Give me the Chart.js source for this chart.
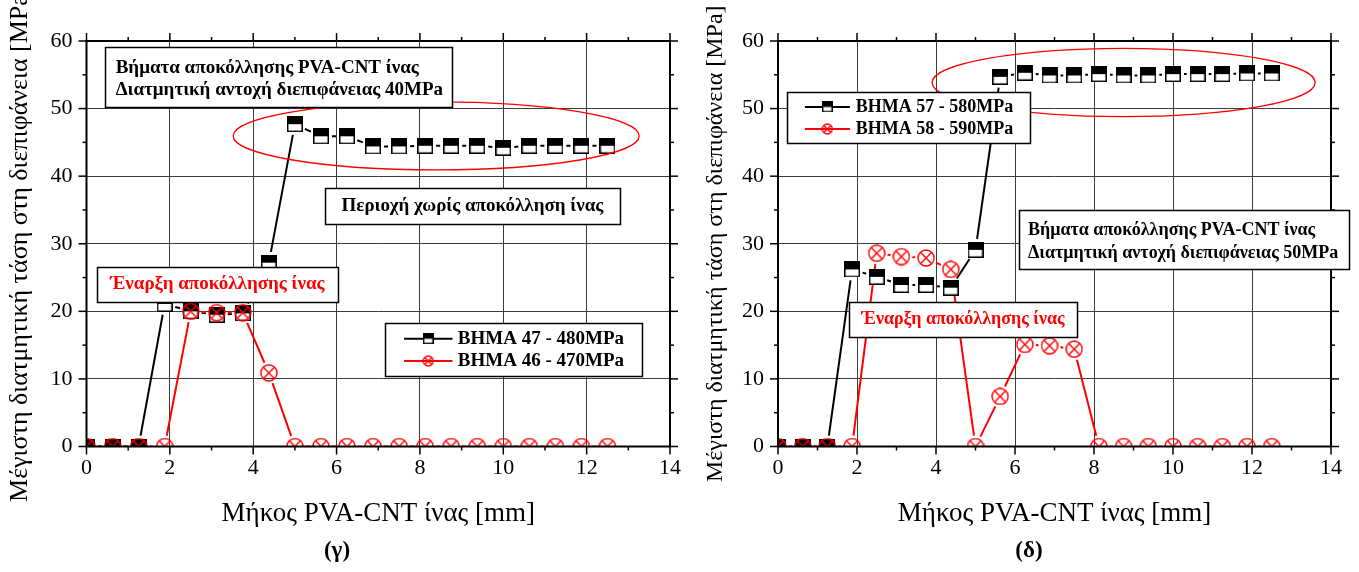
<!DOCTYPE html>
<html lang="el">
<head>
    <meta charset="UTF-8" />
    <title>Μέγιστη διατμητική τάση στη διεπιφάνεια</title>
    <script src="https://cdn.jsdelivr.net/npm/chart.js"></script>
    <style>
        body { margin: 0; background: #fff; }
        #wrap { position: relative; width: 1359px; height: 572px; }
        #boxG { position: absolute; left: 0; top: 0; width: 690px; height: 572px; }
        #boxD { position: absolute; left: 690px; top: 0; width: 669px; height: 572px; }
    </style>
</head>
<body>
    <div id="wrap">
        <div id="boxG"><canvas id="chartG"></canvas></div>
        <div id="boxD"><canvas id="chartD"></canvas></div>
    </div>

    <script>
        // fibre length positions [mm]
        const positions = [0, 0.625, 1.25, 1.875, 2.5, 3.125, 3.75, 4.375, 5, 5.625, 6.25,
                           6.875, 7.5, 8.125, 8.75, 9.375, 10, 10.625, 11.25, 11.875, 12.5];

        // (γ) interface shear strength 40MPa
        const step47 = [0, 0, 0, 21.1, 20.0, 19.5, 19.7, 27.2, 47.7, 45.9, 45.9,
                        44.4, 44.4, 44.5, 44.5, 44.5, 44.2, 44.5, 44.5, 44.5, 44.5];
        const step46 = [0, 0, 0, 0, 20.0, 19.8, 19.8, 10.9, 0, 0, 0,
                        0, 0, 0, 0, 0, 0, 0, 0, 0, 0];

        // (δ) interface shear strength 50MPa
        const step57 = [0, 0, 0, 26.2, 25.1, 23.9, 23.9, 23.5, 29.1, 54.7, 55.3,
                        54.9, 54.9, 55.1, 54.9, 54.9, 55.1, 55.1, 55.1, 55.2, 55.2];
        const step58 = [0, 0, 0, 0, 28.6, 28.1, 27.9, 26.2, 0, 7.4, 15.1,
                        14.9, 14.4, 0, 0, 0, 0, 0, 0, 0, 0];

        const xTicks = [0, 2, 4, 6, 8, 10, 12, 14];
        const yTicks = [0, 10, 20, 30, 40, 50, 60];

        const SERIF = '"Liberation Serif", "Times New Roman", serif';
        const GAP = 11; // Origin style gap between line and symbol

        function squareMarker(s) {
            const c = document.createElement('canvas');
            c.width = s; c.height = s;
            const g = c.getContext('2d');
            g.fillStyle = '#fff'; g.fillRect(0, 0, s, s);
            g.fillStyle = '#000'; g.fillRect(0, 0, s, s / 2);
            g.strokeStyle = '#000'; g.lineWidth = 1.5;
            g.strokeRect(0.75, 0.75, s - 1.5, s - 1.5);
            return c;
        }

        function crossCircle(s) {
            const c = document.createElement('canvas');
            c.width = s; c.height = s;
            const g = c.getContext('2d');
            const m = s / 2, r = s / 2 - 1, d = r * Math.SQRT1_2;
            g.strokeStyle = '#f00'; g.lineWidth = 1.4;
            g.beginPath(); g.arc(m, m, r, 0, 2 * Math.PI); g.stroke();
            g.beginPath();
            g.moveTo(m - d, m - d); g.lineTo(m + d, m + d);
            g.moveTo(m + d, m - d); g.lineTo(m - d, m + d);
            g.stroke();
            return c;
        }

        const sqBig = squareMarker(16), sqSmall = squareMarker(11);
        const ciBig = crossCircle(18), ciSmall = crossCircle(12);

        const toPoints = arr => positions.map((x, i) => ({ x: x, y: arr[i] }));

        // lines drawn with gaps at the symbols, like the original plot
        const gapLines = {
            id: 'gapLines',
            beforeDatasetsDraw(chart) {
                const { ctx, chartArea: a } = chart;
                ctx.save();
                ctx.beginPath();
                ctx.rect(a.left, a.top, a.right - a.left, a.bottom - a.top);
                ctx.clip();
                chart.data.datasets.forEach((ds, i) => {
                    const pts = chart.getDatasetMeta(i).data;
                    ctx.strokeStyle = ds.borderColor;
                    ctx.lineWidth = ds.borderWidth;
                    for (let k = 1; k < pts.length; k++) {
                        const p = pts[k - 1], q = pts[k];
                        const dx = q.x - p.x, dy = q.y - p.y;
                        const len = Math.hypot(dx, dy);
                        if (len <= 2 * GAP) continue;
                        const ux = dx / len, uy = dy / len;
                        ctx.beginPath();
                        ctx.moveTo(p.x + ux * GAP, p.y + uy * GAP);
                        ctx.lineTo(q.x - ux * GAP, q.y - uy * GAP);
                        ctx.stroke();
                    }
                });
                ctx.restore();
            }
        };

        // frame with outward ticks on all four sides
        const frame = {
            id: 'frame',
            afterDatasetsDraw(chart) {
                const { ctx, chartArea: a, scales: { x, y } } = chart;
                const seg = (x1, y1, x2, y2) => { ctx.beginPath(); ctx.moveTo(x1, y1); ctx.lineTo(x2, y2); ctx.stroke(); };
                ctx.save();
                ctx.strokeStyle = '#000';
                ctx.lineWidth = 1.5;
                for (let v = x.min; v <= x.max; v += 1) {
                    const p = x.getPixelForValue(v), len = v % 2 === 0 ? 8 : 4;
                    seg(p, a.bottom, p, a.bottom + len);
                    seg(p, a.top, p, a.top - len);
                }
                for (let v = y.min; v <= y.max; v += 5) {
                    const p = y.getPixelForValue(v), len = v % 10 === 0 ? 8 : 4;
                    seg(a.left, p, a.left - len, p);
                    seg(a.right, p, a.right + len, p);
                }
                ctx.lineWidth = 2;
                ctx.strokeRect(a.left, a.top, a.right - a.left, a.bottom - a.top);
                ctx.restore();
            }
        };

        // text boxes, ellipse, legend and caption
        const notes = {
            id: 'notes',
            afterDraw(chart) {
                const n = chart.options.plugins.notes;
                const { ctx, scales: { x, y } } = chart;
                const px = v => x.getPixelForValue(v), py = v => y.getPixelForValue(v);
                ctx.save();

                n.ellipses.forEach(e => {
                    const cx = px(e.cx), cy = py(e.cy);
                    ctx.beginPath();
                    ctx.ellipse(cx, cy, Math.abs(px(e.cx + e.rx) - cx), Math.abs(py(e.cy + e.ry) - cy), 0, 0, 2 * Math.PI);
                    ctx.strokeStyle = '#f00';
                    ctx.lineWidth = 1.3;
                    ctx.stroke();
                });

                const frameBox = (x1, y1, x2, y2) => {
                    const l = Math.round(px(x1)) + 0.5, t = Math.round(py(y1)) + 0.5;
                    const r = Math.round(px(x2)) + 0.5, b = Math.round(py(y2)) + 0.5;
                    ctx.fillStyle = '#fff';
                    ctx.fillRect(l, t, r - l, b - t);
                    ctx.strokeStyle = '#000';
                    ctx.lineWidth = 1.5;
                    ctx.strokeRect(l, t, r - l, b - t);
                };

                n.boxes.forEach(b => {
                    frameBox(b.x1, b.y1, b.x2, b.y2);
                    ctx.font = b.font;
                    ctx.fillStyle = b.color;
                    ctx.textBaseline = 'middle';
                    b.lines.forEach(l => {
                        if (b.tx === undefined) {
                            ctx.textAlign = 'center';
                            ctx.fillText(l.text, (px(b.x1) + px(b.x2)) / 2, py(l.y));
                        } else {
                            ctx.textAlign = 'left';
                            ctx.fillText(l.text, px(b.tx), py(l.y));
                        }
                    });
                });

                const lg = n.legend;
                frameBox(lg.x1, lg.y1, lg.x2, lg.y2);
                lg.order.forEach((di, row) => {
                    const ds = chart.data.datasets[di];
                    const ry = py(lg.rows[row]);
                    ctx.strokeStyle = ds.borderColor;
                    ctx.lineWidth = 2;
                    ctx.beginPath();
                    ctx.moveTo(px(lg.sx1), ry);
                    ctx.lineTo(px(lg.sx2), ry);
                    ctx.stroke();
                    const img = ds.legendMarker;
                    ctx.drawImage(img, (px(lg.sx1) + px(lg.sx2)) / 2 - img.width / 2, ry - img.height / 2);
                    ctx.font = lg.font;
                    ctx.fillStyle = '#000';
                    ctx.textAlign = 'left';
                    ctx.textBaseline = 'middle';
                    ctx.fillText(ds.label, px(lg.tx), ry);
                });

                ctx.font = 'bold 23px ' + SERIF;
                ctx.fillStyle = '#000';
                ctx.textAlign = 'center';
                ctx.textBaseline = 'middle';
                ctx.fillText(n.caption.text, n.caption.x, n.caption.y);
                ctx.restore();
            }
        };

        function makeChart(id, black, red, labels, notesCfg, lay) {
            return new Chart(document.getElementById(id), {
                type: 'line',
                data: {
                    datasets: [{
                        label: labels[0],
                        data: toPoints(black),
                        showLine: false,
                        borderColor: '#000',
                        borderWidth: 2,
                        pointStyle: sqBig,
                        legendMarker: sqSmall,
                        clip: 0,
                        order: 1
                    }, {
                        label: labels[1],
                        data: toPoints(red),
                        showLine: false,
                        borderColor: '#f00',
                        borderWidth: 2,
                        pointStyle: ciBig,
                        legendMarker: ciSmall,
                        clip: 0,
                        order: 0
                    }]
                },
                options: {
                    responsive: true,
                    maintainAspectRatio: false,
                    animation: false,
                    events: [],
                    layout: { padding: { top: 41, right: lay.right, bottom: 35.5, left: 0 } },
                    scales: {
                        x: {
                            type: 'linear',
                            min: xTicks[0],
                            max: xTicks[xTicks.length - 1],
                            afterFit: s => { s.height = 90; },
                            afterBuildTicks: s => { s.ticks = xTicks.map(v => ({ value: v })); },
                            ticks: { padding: 9, color: '#000', font: { family: SERIF, size: 22 } },
                            grid: { color: '#3c3c3c', lineWidth: 1, drawTicks: false },
                            border: { display: false },
                            title: {
                                display: true,
                                text: 'Μήκος PVA-CNT ίνας [mm]',
                                color: '#000',
                                font: { family: SERIF, size: 27 },
                                padding: { top: 0, bottom: 6 }
                            }
                        },
                        y: {
                            type: 'linear',
                            min: yTicks[0],
                            max: yTicks[yTicks.length - 1],
                            afterFit: s => { s.width = lay.yWidth; },
                            afterBuildTicks: s => { s.ticks = yTicks.map(v => ({ value: v })); },
                            ticks: { padding: 14, color: '#000', font: { family: SERIF, size: 22 } },
                            grid: { color: '#3c3c3c', lineWidth: 1, drawTicks: false },
                            border: { display: false },
                            title: {
                                display: true,
                                text: 'Μέγιστη διατμητική τάση στη διεπιφάνεια [MPa]',
                                color: '#000',
                                font: { family: SERIF, size: lay.titleSize },
                                padding: { top: lay.titlePad, bottom: 0 }
                            }
                        }
                    },
                    plugins: {
                        legend: { display: false },
                        tooltip: { enabled: false },
                        notes: notesCfg
                    }
                },
                plugins: [gapLines, frame, notes]
            });
        }

        makeChart('chartG', step47, step46, ['BHMA 47 - 480MPa', 'BHMA 46 - 470MPa'], {
            ellipses: [{ cx: 8.39, cy: 45.95, rx: 4.87, ry: 5.03 }],
            boxes: [
                { x1: 0.44, y1: 59.1, x2: 8.78, y2: 50.2, tx: 0.70, font: 'bold 19px ' + SERIF, color: '#000',
                  lines: [{ text: 'Βήματα αποκόλλησης PVA-CNT ίνας', y: 56.0 },
                          { text: 'Διατμητική αντοχή διεπιφάνειας 40MPa', y: 52.8 }] },
                { x1: 5.72, y1: 38.25, x2: 12.80, y2: 32.92, font: 'bold 19px ' + SERIF, color: '#000',
                  lines: [{ text: 'Περιοχή χωρίς αποκόλληση ίνας', y: 35.6 }] },
                { x1: 0.25, y1: 26.6, x2: 6.03, y2: 21.4, font: 'bold 19px ' + SERIF, color: '#f00',
                  lines: [{ text: 'Έναρξη αποκόλλησης ίνας', y: 24.0 }] }
            ],
            legend: { x1: 7.16, y1: 18.27, x2: 13.33, y2: 10.43, rows: [15.95, 12.65],
                      sx1: 7.62, sx2: 8.78, tx: 8.91, order: [0, 1], font: 'bold 19px ' + SERIF },
            caption: { text: '(γ)', x: 337, y: 551 }
        }, { yWidth: 86.5, right: 20, titlePad: 4.4, titleSize: 26 });

        makeChart('chartD', step57, step58, ['BHMA 57 - 580MPa', 'BHMA 58 - 590MPa'], {
            ellipses: [{ cx: 8.75, cy: 53.86, rx: 4.85, ry: 5.06 }],
            boxes: [
                { x1: 6.10, y1: 35.0, x2: 14.46, y2: 26.26, tx: 6.33, font: 'bold 18px ' + SERIF, color: '#000',
                  lines: [{ text: 'Βήματα αποκόλλησης PVA-CNT ίνας', y: 32.04 },
                          { text: 'Διατμητική αντοχή διεπιφάνειας 50MPa', y: 28.63 }] },
                { x1: 1.80, y1: 21.43, x2: 7.57, y2: 16.25, font: 'bold 18px ' + SERIF, color: '#f00',
                  lines: [{ text: 'Έναρξη αποκόλλησης ίνας', y: 18.85 }] }
            ],
            legend: { x1: 0.23, y1: 52.5, x2: 6.38, y2: 44.9, rows: [50.24, 46.98],
                      sx1: 0.68, sx2: 1.82, tx: 1.97, order: [0, 1], font: 'bold 18px ' + SERIF },
            caption: { text: '(δ)', x: 339, y: 551 }
        }, { yWidth: 88, right: 28, titlePad: 11.6, titleSize: 24 });
    </script>
</body>
</html>
